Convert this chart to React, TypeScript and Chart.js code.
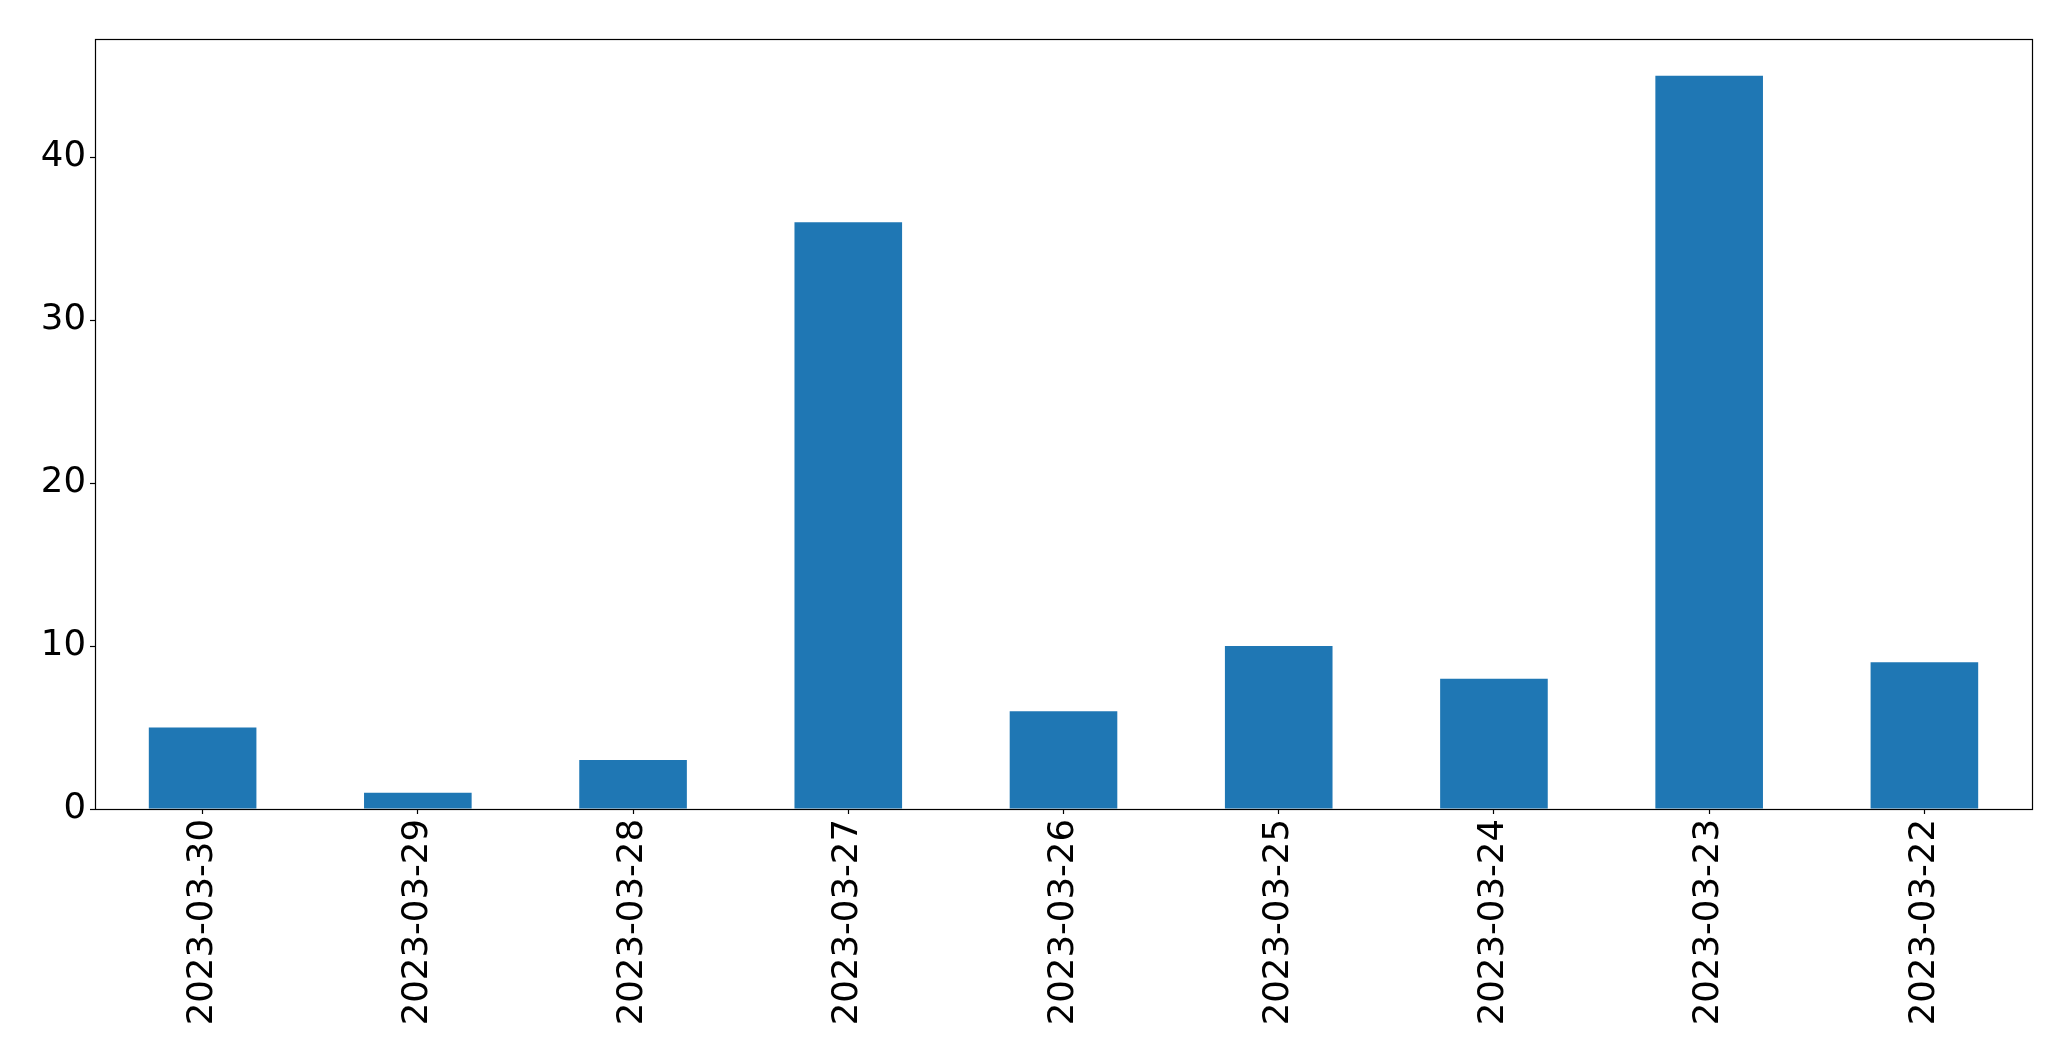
import React, { useEffect, useRef } from "react";
import { Chart, registerables } from "chart.js";

Chart.register(...registerables);

const categories = [
  "2023-03-30",
  "2023-03-29",
  "2023-03-28",
  "2023-03-27",
  "2023-03-26",
  "2023-03-25",
  "2023-03-24",
  "2023-03-23",
  "2023-03-22",
];
const values = [5, 1, 3, 36, 6, 10, 8, 45, 9];
const yTicks = [0, 10, 20, 30, 40];

const W = 2071;
const H = 1061;

const frame = {
  id: "frame",
  afterDatasetsDraw(chart: any) {
    const { ctx, chartArea } = chart;
    ctx.save();
    ctx.strokeStyle = "#000";
    ctx.lineWidth = 1.2;
    ctx.strokeRect(
      Math.round(chartArea.left) + 0.5,
      Math.round(chartArea.top) + 0.5,
      Math.round(chartArea.right - chartArea.left),
      Math.round(chartArea.bottom - chartArea.top)
    );
    ctx.restore();
  },
};

export default function App() {
  const ref = useRef<HTMLCanvasElement | null>(null);
  useEffect(() => {
    if (!ref.current) return;
    const font = { family: "'DejaVu Sans', sans-serif", size: 35.5 };
    const chart = new Chart(ref.current, {
      type: "bar",
      data: {
        labels: categories,
        datasets: [
          {
            data: values,
            backgroundColor: "#1f77b4",
            borderWidth: 0,
            categoryPercentage: 1,
            barPercentage: 0.5,
          },
        ],
      },
      options: {
        animation: false,
        responsive: false,
        devicePixelRatio: 1,
        layout: { padding: { top: 39, right: 39, left: 0, bottom: 0 } },
        plugins: { legend: { display: false }, tooltip: { enabled: false } },
        scales: {
          x: {
            grid: {
              display: true,
              drawOnChartArea: false,
              drawTicks: true,
              tickLength: 5,
              tickColor: "#000",
              tickWidth: 1.2,
              offset: false,
            },
            border: { display: false },
            ticks: {
              color: "#000",
              font,
              maxRotation: 90,
              minRotation: 90,
              padding: 5,
              autoSkip: false,
            },
            afterFit: (s: any) => {
              s.height = H - 809;
            },
          },
          y: {
            min: 0,
            max: 47.25,
            afterBuildTicks: (s: any) => {
              s.ticks = yTicks.map((v) => ({ value: v }));
            },
            grid: {
              display: true,
              drawOnChartArea: false,
              drawTicks: true,
              tickLength: 5,
              tickColor: "#000",
              tickWidth: 1.2,
            },
            border: { display: false },
            ticks: { color: "#000", font, padding: 4 },
            afterFit: (s: any) => {
              s.width = 95;
            },
          },
        },
      },
      plugins: [frame],
    });
    return () => chart.destroy();
  }, []);
  return (
    <div style={{ position: "fixed", left: 0, top: 0, width: W, height: H, background: "#fff" }}>
      <canvas ref={ref} width={W} height={H} style={{ width: W, height: H, display: "block" }} />
    </div>
  );
}
